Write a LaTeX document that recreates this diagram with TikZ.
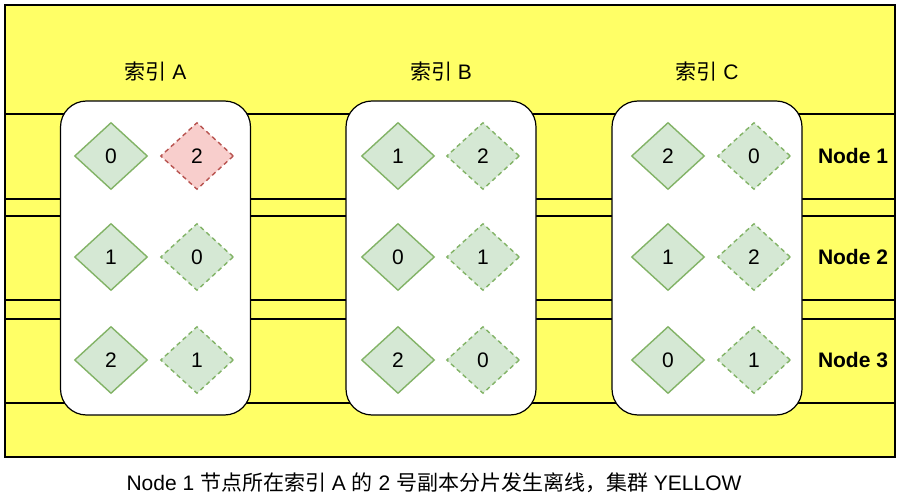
\documentclass[tikz,border=0pt]{standalone}
\usepackage{fontspec}
\setmainfont{Liberation Sans}
\newfontfamily\cjk{Noto Sans CJK SC}
\usetikzlibrary{shapes.geometric}
\definecolor{bandYellow}{HTML}{FFFF66}
\definecolor{shardGreenFill}{HTML}{D5E8D4}
\definecolor{shardGreenLine}{HTML}{82B366}
\definecolor{shardRedFill}{HTML}{F8CECC}
\definecolor{shardRedLine}{HTML}{B85450}
\newcommand{\diagramFont}{\fontsize{21pt}{25pt}\selectfont}
\tikzset{
  cluster frame/.style={draw=black, fill=bandYellow, line width=1.2pt},
  cluster band/.style={draw=black, fill=bandYellow, line width=1.2pt},
  cluster index/.style={
    draw=black,
    fill=white,
    line width=1.2pt,
    rounded corners=26pt
  },
  cluster title/.style={font=\diagramFont, inner sep=1pt},
  cluster label/.style={font=\diagramFont\bfseries, inner sep=1pt},
  cluster shard/.style={
    diamond,
    minimum width=73pt,
    minimum height=67pt,
    inner sep=0pt,
    line width=1.4pt,
    font=\diagramFont
  },
  shard primary/.style={cluster shard, draw=shardGreenLine, fill=shardGreenFill},
  shard replica/.style={shard primary, dash pattern=on 4.5pt off 3.5pt},
  shard lost/.style={cluster shard, draw=shardRedLine, fill=shardRedFill,
    dash pattern=on 4.5pt off 3.5pt}
}
\newcommand{\clusterBand}[2]{%
  \draw[cluster band] (5,#1) rectangle (895,#2);%
}
\newcommand{\clusterIndex}[3]{%
  \draw[cluster index] ({#2-95},101) rectangle ({#2+95},415);%
  \node[cluster title] (#1) at (#2,72) {#3};%
}
\newcommand{\clusterShard}[5][shard primary]{%
  \node[#1] (#2) at (#3,#4) {#5};%
}

\begin{document}
\begin{tikzpicture}[x=1pt,y=-1pt]
  \useasboundingbox (0,0) rectangle (902,502);
  \draw[cluster frame] (5,5) rectangle (895,457);

  \clusterBand{114}{199}
  \clusterBand{216}{300}
  \clusterBand{319}{403}

  \clusterIndex{titleA}{155.5}{{\cjk 索引} A}
  \clusterIndex{titleB}{441}{{\cjk 索引} B}
  \clusterIndex{titleC}{707}{{\cjk 索引} C}

  % index A
  \clusterShard{a1p}{111}{156}{0}
  \clusterShard[shard lost]{a1r}{197}{156}{2}
  \clusterShard{a2p}{111}{257}{1}
  \clusterShard[shard replica]{a2r}{197}{257}{0}
  \clusterShard{a3p}{111}{360}{2}
  \clusterShard[shard replica]{a3r}{197}{360}{1}

  % index B
  \clusterShard{b1p}{398}{156}{1}
  \clusterShard[shard replica]{b1r}{483}{156}{2}
  \clusterShard{b2p}{398}{257}{0}
  \clusterShard[shard replica]{b2r}{483}{257}{1}
  \clusterShard{b3p}{398}{360}{2}
  \clusterShard[shard replica]{b3r}{483}{360}{0}

  % index C
  \clusterShard{c1p}{668}{156}{2}
  \clusterShard[shard replica]{c1r}{754}{156}{0}
  \clusterShard{c2p}{668}{257}{1}
  \clusterShard[shard replica]{c2r}{754}{257}{2}
  \clusterShard{c3p}{668}{360}{0}
  \clusterShard[shard replica]{c3r}{754}{360}{1}

  \node[cluster label] (node1) at (853,156) {Node 1};
  \node[cluster label] (node2) at (853,257) {Node 2};
  \node[cluster label] (node3) at (853,360) {Node 3};

  \node[cluster title] (caption) at (434,483)
    {Node 1 {\cjk 节点所在索引} A {\cjk 的} 2 {\cjk 号副本分片发生离线，集群} YELLOW};
\end{tikzpicture}
\end{document}
